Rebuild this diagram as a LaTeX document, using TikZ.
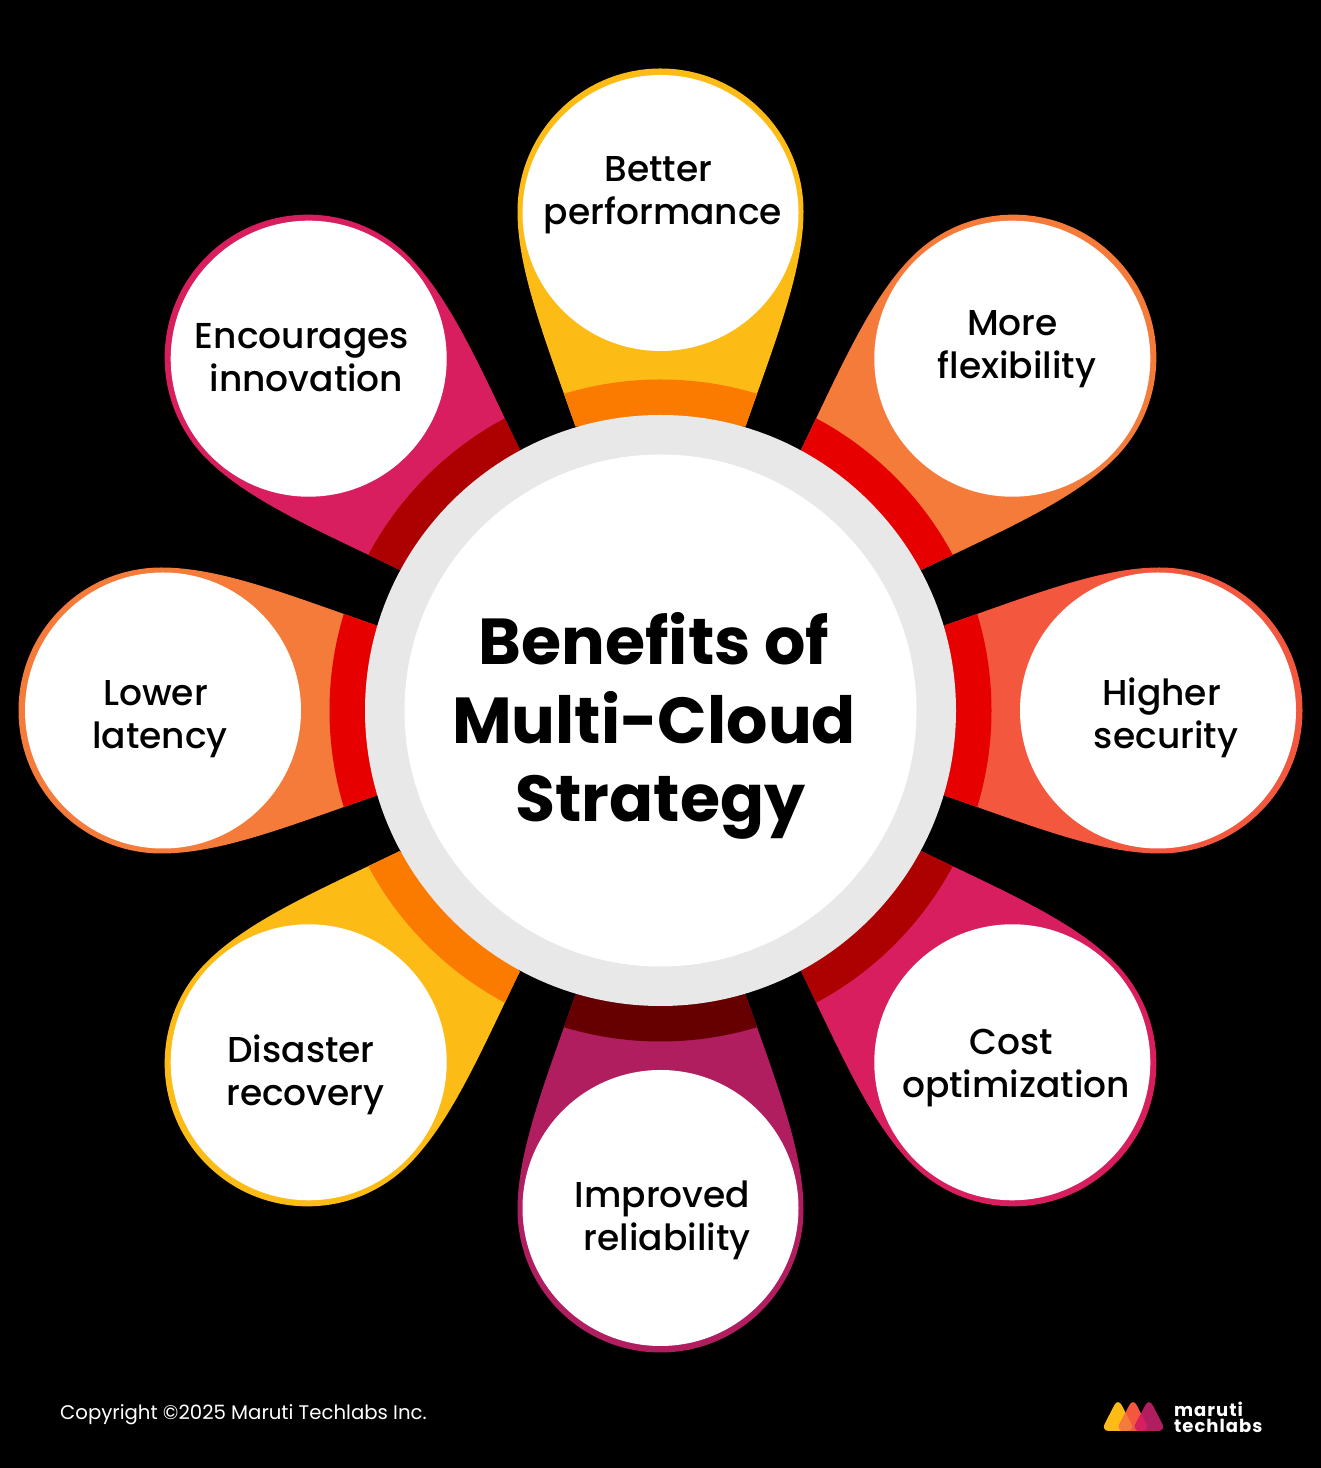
\documentclass[tikz,border=0pt]{standalone}
\usepackage{fontspec}
\setmainfont{Poppins}
\newfontfamily\medfont{Poppins Medium}
\newfontfamily\logofont[LetterSpace=5.5]{Poppins}
\usetikzlibrary{positioning}
\definecolor{cYellow}{HTML}{FDBB16}
\definecolor{cAmber}{HTML}{FB7B00}
\definecolor{cOrange}{HTML}{F57B3A}
\definecolor{cCoral}{HTML}{F3583F}
\definecolor{cRed}{HTML}{E60000}
\definecolor{cPink}{HTML}{D81E5F}
\definecolor{cMaroon}{HTML}{AD0000}
\definecolor{cPlum}{HTML}{B01E60}
\definecolor{cDark}{HTML}{660000}
\definecolor{cRing}{HTML}{E8E8E8}
\tikzset{
  bubble/.style={circle, fill=white, inner sep=0pt, minimum size=276pt},
  benefit/.style={align=center, text=black, font=\fontsize{36}{43}\medfont},
  heading/.style={align=center, text=black, font=\fontsize{65}{78.5}\selectfont\bfseries},
  footer/.style={text=white, anchor=west, inner sep=0pt, font=\fontsize{19.7}{24}\selectfont},
  logotext/.style={text=white, anchor=west, inner sep=0pt, font=\fontsize{18}{15}\logofont\bfseries}
}
\newcommand{\petalpath}{(-85,284) .. controls (-115,370) and (-143,440) .. (-143,499)
  arc[start angle=180, end angle=0, radius=143]
  .. controls (143,440) and (115,370) .. (85,284) -- cycle}
\newcommand{\logotri}[1]{(#1-2,27) [rounded corners=8pt] -- ++(17,33) -- ++(17,-33) -- cycle}
\newcommand{\pad}{\hspace*{9pt}}
\begin{document}
\begin{tikzpicture}[x=1pt, y=1pt]
  \useasboundingbox (0,0) rectangle (1321,1468);
  \fill[black] (0,0) rectangle (1321,1468);
  \coordinate (hub) at (660.5,757.5);

  % Petals
  \foreach \ang/\petal/\shade/\id in {0/cYellow/cAmber/a, 45/cOrange/cRed/b, 90/cCoral/cRed/c,
      135/cPink/cMaroon/d, 180/cPlum/cDark/e, 225/cYellow/cAmber/f, 270/cOrange/cRed/g, 315/cPink/cMaroon/h} {
    \begin{scope}[shift={(hub)}, rotate=-\ang]
      \fill[\petal] \petalpath;
      \begin{scope}
        \clip \petalpath;
        \fill[\shade] (0,0) circle[radius=331];
      \end{scope}
      \node[bubble] (bubble\id) at (0,497.5) {};
    \end{scope}
  }

  % Centre
  \fill[cRing] (hub) circle[radius=295.5];
  \node[circle, fill=white, inner sep=0pt, minimum size=512pt] (core) at (hub) {};
  \node[heading] (title) at (654,742) {Benefits of\\Multi-Cloud\\\hspace*{13pt}Strategy};

  % Labels
  \node[benefit] (better) at (663,1273) {Better\pad\\performance};
  \node[benefit] (flex) at (1017,1119) {More\pad\\flexibility};
  \node[benefit] (secure) at (1166,750) {Higher\pad\\security};
  \node[benefit] (cost) at (1016,400) {Cost\pad\\optimization};
  \node[benefit] (reliable) at (667,248) {Improved\pad\\reliability};
  \node[benefit] (recover) at (305.5,393) {Disaster\pad\\recovery};
  \node[benefit] (latency) at (160,749) {Lower\pad\\latency};
  \node[benefit] (innovate) at (306.5,1110) {Encourages\pad\\innovation};

  % Footer
  \node[footer] (copy) at (60,53) {Copyright ©2025 Maruti Techlabs Inc.};
  \begin{scope}[shift={(1103,10)}]
    \fill[cYellow] \logotri{0};
    \fill[cCoral] \logotri{15};
    \fill[cPlum] \logotri{31};
    \begin{scope}
      \clip \logotri{0};
      \fill[cOrange] \logotri{15};
    \end{scope}
    \begin{scope}
      \clip \logotri{31};
      \fill[cPink] \logotri{15};
    \end{scope}
  \end{scope}
  \node[logotext] (maruti) at (1174,59) {maruti};
  \node[logotext] (techlabs) at (1174,42) {techlabs};
\end{tikzpicture}
\end{document}
